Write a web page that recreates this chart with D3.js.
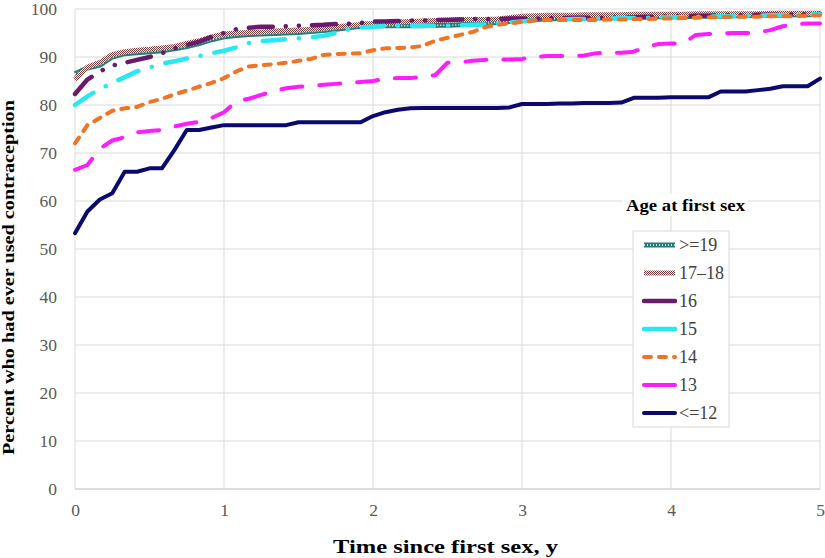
<!DOCTYPE html>
<html><head><meta charset="utf-8">
<script src="https://cdn.jsdelivr.net/npm/d3@7"></script>
<style>body{margin:0;background:#fff}svg{display:block}</style>
</head><body>
<svg id="chart" width="825" height="558"></svg>
<script>
// months since first sex, 0..60 (converted to years)
const months = d3.range(0, 61);
const xTicks = [0, 1, 2, 3, 4, 5];
const yTicks = [0, 10, 20, 30, 40, 50, 60, 70, 80, 90, 100];
const seriesNames = [">=19", "17\u201318", "16", "15", "14", "13", "<=12"];

const age19plus = [86.5,87.7,88.3,90.0,90.7,90.9,91.1,91.3,91.7,92.2,
 92.8,93.6,94.2,94.5,94.7,94.8,94.9,95.0,95.1,95.3,
 95.5,95.8,96.1,96.4,96.5,96.5,96.5,96.5,96.5,96.6,
 96.6,96.7,96.8,97.0,97.2,97.4,97.6,97.8,97.9,98.0,
 98.0,98.1,98.1,98.2,98.2,98.3,98.3,98.4,98.4,98.4,
 98.5,98.5,98.5,98.6,98.6,98.7,98.7,98.7,98.8,98.8,98.9];
const age17_18 = [85.3,87.9,88.9,90.5,91.1,91.4,91.6,91.9,92.2,92.8,
 93.4,94.2,94.8,95.0,95.1,95.2,95.4,95.5,95.6,95.8,
 96.0,96.3,96.5,96.8,97.0,97.2,97.3,97.4,97.5,97.6,
 97.7,97.8,97.8,97.8,97.9,98.2,98.5,98.6,98.7,98.7,
 98.7,98.8,98.8,98.8,98.8,98.9,98.9,98.9,98.9,98.9,
 99.0,99.0,99.0,99.0,99.0,99.0,99.1,99.1,99.1,99.1,99.1];
const age16 = [82.3,85.3,87.0,88.2,88.8,89.4,90.0,90.8,91.8,92.5,
 93.2,94.2,95.0,95.8,96.1,96.3,96.3,96.4,96.5,96.6,
 96.7,96.9,96.9,97.1,97.4,97.4,97.5,97.6,97.6,97.7,
 97.7,97.8,97.9,97.9,97.9,98.0,98.0,98.0,98.1,98.1,
 98.2,98.2,98.2,98.2,98.3,98.3,98.4,98.4,98.5,98.5,
 98.6,98.6,98.7,98.7,98.7,98.8,98.8,98.8,98.9,98.9,99.0];
const age15 = [80.0,81.8,83.3,84.6,85.8,87.0,87.8,88.6,89.1,89.7,
 90.2,90.8,91.3,92.0,92.9,93.3,93.5,93.7,93.9,94.1,
 94.4,95.0,95.7,96.1,96.3,96.5,96.5,96.5,96.5,96.5,
 96.5,96.6,96.7,96.8,97.0,97.2,97.4,97.6,97.7,97.8,
 97.9,97.9,98.0,98.0,98.1,98.1,98.2,98.2,98.3,98.3,
 98.4,98.4,98.5,98.5,98.6,98.6,98.7,98.7,98.8,98.8,98.9];
const age14 = [72.0,75.8,77.3,78.8,79.3,79.6,80.6,81.3,82.2,83.0,
 83.8,84.6,85.6,87.0,88.0,88.3,88.5,88.8,89.2,89.6,
 90.4,90.6,90.7,90.8,91.4,91.8,91.9,92.0,92.3,93.4,
 94.0,94.6,95.2,96.2,96.7,97.0,97.3,97.6,97.7,97.7,
 97.7,97.7,97.7,97.8,97.8,97.9,97.9,98.0,98.0,98.1,
 98.2,98.3,98.3,98.4,98.4,98.4,98.5,98.5,98.5,98.6,98.7];
const age13 = [66.5,67.5,70.9,72.6,73.3,74.3,74.6,74.8,75.5,76.1,
 76.5,77.3,78.5,80.8,81.3,82.1,82.9,83.5,83.8,84.0,
 84.2,84.4,84.6,84.8,85.0,85.5,85.6,85.6,85.9,86.2,
 88.8,88.9,89.2,89.4,89.5,89.5,89.6,90.0,90.2,90.2,
 90.2,90.3,90.8,90.9,90.9,91.1,92.1,92.7,92.8,92.9,
 94.6,94.8,94.9,95.0,95.0,95.1,95.6,96.4,96.8,97.0,97.0];
const age12minus = [53.3,57.8,60.3,61.6,66.1,66.1,66.8,66.8,70.6,74.8,
 74.8,75.3,75.8,75.8,75.8,75.8,75.8,75.8,76.4,76.4,
 76.4,76.4,76.4,76.4,77.7,78.5,79.0,79.3,79.4,79.4,
 79.4,79.4,79.4,79.4,79.4,79.5,80.2,80.2,80.2,80.3,
 80.3,80.4,80.4,80.4,80.5,81.5,81.5,81.5,81.6,81.6,
 81.6,81.6,82.8,82.8,82.8,83.1,83.4,83.9,83.9,83.9,85.5];

const seriesValues = [age19plus, age17_18, age16, age15, age14, age13, age12minus];

const styles = [
  {stroke:"#1f7d78", width:5, dash:null, cap:"butt", overlay:{stroke:"#ffffff", width:1.4, dash:"1,2"}},
  {stroke:"url(#checker)", width:5, dash:null, cap:"butt"},
  {stroke:"#6b1a6b", width:4.5, dash:"24,13,0.1,13,0.1,13", cap:"round"},
  {stroke:"#2ae8f0", width:4.5, dash:"22,14,0.1,14", cap:"round"},
  {stroke:"#f07424", width:4, dash:"7,8", cap:"round"},
  {stroke:"#ff1cff", width:4, dash:"21,17", cap:"round"},
  {stroke:"#0a0a6e", width:4, dash:null, cap:"round"}
];

const svg = d3.select("#chart");
const font = "'Liberation Serif','Times New Roman',serif";

const defs = svg.append("defs");
const pat = defs.append("pattern").attr("id","checker").attr("patternUnits","userSpaceOnUse")
  .attr("width",2).attr("height",2);
pat.append("rect").attr("width",2).attr("height",2).attr("fill","#f4ecec");
pat.append("rect").attr("width",1).attr("height",1).attr("fill","#7a3c3c");
pat.append("rect").attr("x",1).attr("y",1).attr("width",1).attr("height",1).attr("fill","#7a3c3c");

const x = d3.scaleLinear().domain([0,5]).range([75,820]);
const y = d3.scaleLinear().domain([0,100]).range([489,9]);

// grid
const g = svg.append("g");
g.selectAll(".hg").data(yTicks).join("line")
  .attr("x1",x(0)).attr("x2",x(5)).attr("y1",d=>y(d)).attr("y2",d=>y(d))
  .attr("stroke","#d9d9d9").attr("stroke-width",1);
g.selectAll(".vg").data(xTicks).join("line")
  .attr("x1",d=>x(d)).attr("x2",d=>x(d)).attr("y1",y(0)).attr("y2",y(100))
  .attr("stroke","#d9d9d9").attr("stroke-width",1);
g.append("line").attr("x1",x(0)).attr("x2",x(5)).attr("y1",y(0)).attr("y2",y(0))
  .attr("stroke","#d9d9d9").attr("stroke-width",1.5);

// axes via d3 axis (labels only)
const yAxis = svg.append("g").attr("transform",`translate(${x(0)},0)`)
  .call(d3.axisLeft(y).tickValues(yTicks).tickSize(0).tickPadding(18));
const xAxis = svg.append("g").attr("transform",`translate(0,${y(0)})`)
  .call(d3.axisBottom(x).tickValues(xTicks).tickSize(0).tickPadding(15).tickFormat(d3.format("d")));
[yAxis,xAxis].forEach(a=>{
  a.select(".domain").remove();
  a.selectAll("text").attr("font-family",font).attr("font-size",17.5).attr("fill","#595959");
});

// lines
const line = d3.line().x((d,i)=>x(months[i]/12)).y(d=>y(d));
const lines = svg.append("g");
seriesValues.forEach((vals,k)=>{
  const s = styles[k];
  lines.append("path").datum(vals).attr("d",line).attr("fill","none")
    .attr("stroke",s.stroke).attr("stroke-width",s.width)
    .attr("stroke-dasharray",s.dash).attr("stroke-linecap",s.cap).attr("stroke-linejoin","round");
  if (s.overlay) {
    lines.append("path").datum(vals).attr("d",line).attr("fill","none")
      .attr("stroke",s.overlay.stroke).attr("stroke-width",s.overlay.width)
      .attr("stroke-dasharray",s.overlay.dash);
  }
});

// legend
const lg = svg.append("g");
lg.append("rect").attr("x",622).attr("y",194).attr("width",126).attr("height",22).attr("fill","#fff");
lg.append("text").attr("x",626).attr("y",211)
  .attr("font-family",font).attr("font-size",17).attr("font-weight","bold").attr("fill","#000")
  .attr("textLength",119).attr("lengthAdjust","spacingAndGlyphs")
  .text("Age at first sex");
lg.append("rect").attr("x",633).attr("y",231).attr("width",96).attr("height",196)
  .attr("fill","#fff").attr("stroke","#d9d9d9").attr("stroke-width",1);
seriesNames.forEach((name,k)=>{
  const s = styles[k];
  const yy = 245 + 28*k;
  lg.append("line").attr("x1",644).attr("x2",675).attr("y1",yy).attr("y2",yy)
    .attr("stroke",s.stroke).attr("stroke-width",s.width)
    .attr("stroke-dasharray", k===4 ? "7,8" : null).attr("stroke-linecap",s.cap);
  if (s.overlay) lg.append("line").attr("x1",644).attr("x2",675).attr("y1",yy).attr("y2",yy)
    .attr("stroke",s.overlay.stroke).attr("stroke-width",s.overlay.width).attr("stroke-dasharray",s.overlay.dash);
  lg.append("text").attr("x",679).attr("y",yy+6)
    .attr("font-family",font).attr("font-size",18).attr("fill","#404040").text(name);
});

// axis titles
svg.append("text").attr("x",333).attr("y",553)
  .attr("font-family",font).attr("font-size",18).attr("font-weight","bold").attr("fill","#000")
  .attr("textLength",225).attr("lengthAdjust","spacingAndGlyphs")
  .text("Time since first sex, y");
svg.append("text").attr("transform","translate(14,455) rotate(-90)")
  .attr("font-family",font).attr("font-size",17).attr("font-weight","bold").attr("fill","#000")
  .attr("textLength",355).attr("lengthAdjust","spacingAndGlyphs")
  .text("Percent who had ever used contraception");
</script>
</body></html>
